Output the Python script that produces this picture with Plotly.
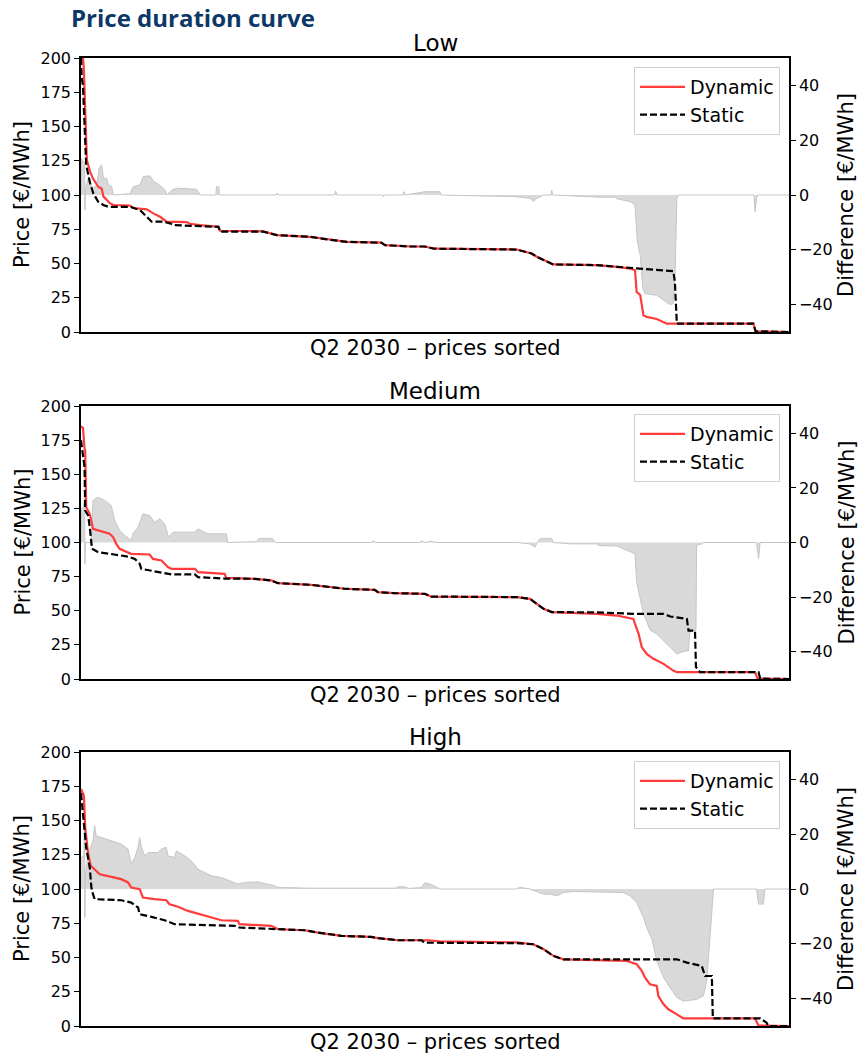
import plotly.graph_objects as go

# ---------------- data (hour rank in Q2 2030, value) ----------------
HOURS = 2184
price_ticks = [0, 25, 50, 75, 100, 125, 150, 175, 200]
diff_ticks = [-40, -20, 0, 20, 40]
scenarios = ["Low", "Medium", "High"]

low_dynamic = [(0, 200), (6, 200), (9, 191), (15, 133), (18, 125.5), (28, 117), (37, 112), (53, 106),
               (64, 104.6), (69, 99), (89, 94), (100, 92.7), (151, 92.2), (161, 90.5), (203, 89.5),
               (223, 86.6), (244, 84.1), (264, 80.5), (326, 80.2), (336, 79), (367, 78), (424, 76.8),
               (429, 73.9), (562, 73.5), (604, 70.7), (706, 69.5), (758, 67.6), (820, 65.8), (926, 65.2),
               (938, 63.4), (1018, 62.4), (1060, 62.4), (1090, 60.8), (1344, 60.2), (1390, 57.3),
               (1406, 54.9), (1457, 49.3), (1591, 48.8), (1653, 47.6), (1694, 46.3), (1709, 45.1),
               (1714, 29.3), (1725, 27), (1735, 12.2), (1745, 11), (1776, 9.5), (1807, 6.1), (2074, 6.1),
               (2081, 0.5), (2184, 0)]
low_static = [(0, 200), (2, 186), (6, 180), (13, 130), (16, 122), (28, 108.6), (38, 101.2), (53, 95.1),
              (69, 92.7), (84, 91.4), (151, 91.4), (182, 89), (203, 84.1), (218, 80.5), (254, 80.5),
              (275, 79.3), (285, 78), (346, 77.3), (424, 76.8), (429, 73.2), (562, 73.2), (604, 70.7),
              (706, 69.5), (758, 67.6), (820, 65.8), (926, 65.2), (938, 63.4), (1018, 62.4), (1060, 62.4),
              (1090, 60.8), (1344, 60.2), (1390, 57.3), (1406, 54.9), (1457, 49.3), (1591, 48.8),
              (1653, 47.6), (1694, 46.8), (1735, 46.3), (1827, 44.4), (1832, 36.6), (1838, 6.1),
              (2074, 6.1), (2081, 0.5), (2184, 0)]
low_diff = [(0, 0), (1, 13.4), (7, 12), (11, 12), (12, -5.5), (14, 2), (23, 6.7), (28, 4.3), (38, 2.5),
            (48, 3.7), (56, 9.8), (64, 11), (69, 6.1), (79, 6.1), (84, 3.7), (95, 3), (100, 0), (151, 0.5),
            (161, 3), (182, 3.7), (192, 6.7), (213, 7), (223, 5), (234, 4.3), (249, 3), (259, 1.8),
            (266, 0), (280, 1.8), (295, 2.5), (357, 2.1), (367, 0), (416, 0), (418, 3), (425, 3), (427, 0),
            (600, 0), (605, 0.7), (610, 0), (782, 0), (785, 1.5), (790, 0), (930, 0), (933, -0.6),
            (936, 0), (993, 0), (996, 1.2), (1000, 0), (1060, 1.2), (1107, 1.2), (1112, 0), (1339, -0.6),
            (1385, -1.2), (1396, -2.4), (1406, -1.2), (1427, 0), (1450, 0), (1452, 1.8), (1455, 0),
            (1601, -0.8), (1648, -0.8), (1653, -1.4), (1694, -2.4), (1709, -3.7), (1716, -17),
            (1725, -22), (1733, -34.1), (1740, -36), (1776, -36.6), (1797, -38.4), (1817, -40),
            (1827, -39.6), (1833, -28), (1838, -1.2), (1843, 0), (2076, 0), (2079, -6.1), (2084, -1.2),
            (2087, 0), (2184, 0)]

medium_dynamic = [(0, 185), (6, 184), (11, 168.6), (13, 167), (16, 125.9), (27, 121), (37, 110), (52, 108.8),
                  (88, 106.4), (99, 104), (109, 99), (119, 95.4), (145, 93), (155, 91.7), (212, 91.2),
                  (222, 88), (248, 86.8), (268, 82), (279, 80.7), (351, 80.7), (361, 78.3), (443, 77),
                  (448, 74.1), (536, 73.4), (587, 72.2), (608, 70.2), (710, 69), (762, 67.3), (813, 66.1),
                  (906, 65.3), (916, 63.6), (967, 62.9), (1060, 62.4), (1080, 60.4), (1344, 60),
                  (1385, 58.7), (1406, 55), (1427, 51.4), (1452, 49), (1591, 47.7), (1653, 46.5),
                  (1704, 44), (1709, 40.4), (1720, 33.1), (1730, 23.3), (1745, 18.4), (1766, 14.8),
                  (1797, 11.1), (1827, 6.2), (1838, 5), (2079, 5), (2087, 0.3), (2184, 0)]
medium_static = [(0, 175), (3, 170), (11, 155), (13, 123.4), (22, 119.8), (27, 111.2), (32, 99), (34, 95.4),
                 (52, 93), (104, 91.2), (145, 89.7), (166, 88), (181, 84.4), (186, 80.7), (237, 78.3),
                 (279, 76.6), (351, 76.6), (361, 74.6), (443, 73.6), (536, 73.4), (587, 72.2), (608, 70.2),
                 (710, 69), (762, 67.3), (813, 66.1), (906, 65.3), (916, 63.6), (967, 62.9), (1060, 62.4),
                 (1080, 60.4), (1344, 60), (1385, 58.7), (1406, 55), (1427, 51.4), (1452, 49), (1591, 48.8),
                 (1714, 47.7), (1797, 47.7), (1818, 45.8), (1869, 44), (1874, 35.5), (1894, 35.5),
                 (1897, 8.7), (1910, 5), (2090, 5), (2095, 0.3), (2184, 0)]
medium_diff = [(0, 0), (1, 12.3), (8, 13), (11, 17.8), (12, -7.8), (14, 0), (30, 0), (33, 3.2), (37, 15.4),
               (52, 16.6), (73, 15.4), (93, 13.6), (104, 8.1), (119, 4.4), (135, 2.6), (155, 0.7), (160, 3.2),
               (176, 5.6), (191, 10.5), (212, 9.9), (227, 7.4), (243, 8.7), (258, 6.8), (270, 2), (284, 3.8),
               (351, 3.8), (361, 5), (391, 3.2), (448, 3.2), (453, 0), (540, 0.3), (550, 1.5), (590, 1.5),
               (600, 0), (895, 0), (900, 0.6), (910, 0), (1045, 0), (1050, 0.6), (1060, 0), (1077, 0.4),
               (1098, 0), (1344, 0), (1385, -0.5), (1401, -1.7), (1406, -0.3), (1416, 1.5), (1452, 1.5),
               (1457, 0), (1509, -0.5), (1591, -0.5), (1596, -1.1), (1653, -1.3), (1694, -3.5),
               (1709, -4.1), (1714, -14.5), (1725, -21), (1735, -26), (1745, -29), (1755, -32),
               (1776, -33.5), (1797, -36), (1817, -38.4), (1838, -40.8), (1858, -39.9), (1874, -39.6),
               (1878, -32.2), (1897, -32.2), (1899, -1), (1915, -0.5), (1920, 0), (2084, 0), (2090, -6),
               (2095, 0), (2184, 0)]

high_dynamic = [(0, 173), (9, 168), (13, 145), (22, 125.5), (30, 117), (47, 113.3), (58, 110.8), (94, 108.9),
                (124, 107.2), (145, 104.8), (155, 101.1), (181, 99.9), (191, 93.8), (227, 92.6), (263, 91.8),
                (273, 88.9), (299, 87), (330, 84), (361, 82.1), (402, 79.2), (433, 77.2), (484, 76.7),
                (489, 74.3), (587, 73.1), (608, 70.6), (690, 69.9), (731, 68.2), (803, 65.8), (895, 65),
                (916, 64.1), (978, 62.6), (1070, 62.6), (1107, 61.8), (1344, 61), (1395, 59.7), (1427, 56),
                (1457, 51.2), (1488, 48.7), (1684, 47.5), (1714, 45.1), (1730, 40.2), (1740, 35.3),
                (1755, 30.5), (1776, 29.2), (1781, 21.9), (1797, 15.8), (1812, 12.2), (1838, 8.5),
                (1858, 5.6), (2079, 5.6), (2090, 0.3), (2184, 0)]
high_static = [(0, 170), (6, 154.7), (11, 142.5), (16, 130.3), (27, 115.7), (32, 101.1), (37, 96.2), (42, 92.6),
               (124, 91.8), (155, 90.1), (176, 86.5), (181, 81.6), (217, 79.7), (258, 77.2), (289, 74.3),
               (474, 73.1), (484, 71.9), (597, 70.6), (690, 69.9), (731, 68.2), (803, 65.8), (895, 65),
               (916, 64.1), (978, 62.6), (1050, 62.6), (1060, 60.8), (1344, 60.5), (1395, 59.7), (1427, 56),
               (1457, 51.2), (1488, 48.7), (1838, 48.7), (1869, 46.3), (1915, 43.8), (1925, 36.5),
               (1946, 36.5), (1949, 5.6), (2095, 5.6), (2100, 4.9), (2115, 2.4), (2120, 0), (2184, 0)]
high_diff = [(0, 11.5), (9, 12), (11, 28.6), (12, -10.4), (13, 5), (22, 12.7), (37, 17.6), (42, 23.1),
             (47, 19.4), (63, 18.8), (94, 17.6), (124, 16.4), (145, 14.6), (155, 9.1), (166, 11.5),
             (176, 15.2), (181, 18.8), (186, 15.2), (197, 12.1), (207, 13.3), (237, 13.3), (248, 14.6),
             (263, 15.2), (268, 12.1), (289, 11.5), (294, 13.9), (320, 12.1), (340, 10.3), (361, 7.2),
             (402, 4.8), (433, 4.2), (484, 1.8), (505, 2.4), (546, 2.6), (597, 1.2), (608, 0.6), (700, 0.3),
             (970, 0.3), (978, 0.8), (1000, 0.8), (1010, 0.2), (1050, 0.5), (1060, 2.2), (1077, 1.8),
             (1098, 0.6), (1108, 0), (1340, 0), (1355, 0.6), (1385, 0), (1406, -0.9), (1427, -1.9),
             (1447, -1.9), (1468, -2.5), (1488, -1.3), (1519, -0.9), (1673, -1.3), (1694, -2.5),
             (1714, -4.9), (1725, -8), (1735, -10.4), (1745, -14.1), (1761, -18.3), (1776, -26.2),
             (1797, -32.3), (1817, -36), (1838, -39.6), (1858, -40.9), (1899, -40.3), (1920, -39),
             (1930, -33.6), (1941, -16.5), (1949, -0.9), (1951, 0), (2084, 0), (2090, -5.5), (2105, -5.5),
             (2110, 0), (2184, 0)]

# ---------------- figure ----------------
W, H = 859, 1055
FONT = "DejaVu Sans"
RED = "#ff3b3b"


def fx(p):
    return p / W


def fy(p):
    return 1 - p / H


panels = [
    dict(title=scenarios[0], dyn=low_dynamic, sta=low_static, diff=low_diff, top=58, bottom=332, leg_top=67),
    dict(title=scenarios[1], dyn=medium_dynamic, sta=medium_static, diff=medium_diff, top=406, bottom=679, leg_top=414),
    dict(title=scenarios[2], dyn=high_dynamic, sta=high_static, diff=high_diff, top=752, bottom=1026, leg_top=761),
]

plot_left, plot_right = 81, 789
fig = go.Figure()
layout = dict(
    width=W, height=H, autosize=False,
    margin=dict(l=0, r=0, t=0, b=0, autoexpand=False),
    paper_bgcolor="white", plot_bgcolor="white",
    font=dict(family=FONT, color="black", size=16),
    annotations=[],
)

axis_common = dict(showgrid=False, zeroline=False, showline=True, linecolor="black", linewidth=1.5,
                   ticks="outside", ticklen=5, tickwidth=1.3, tickcolor="black", automargin=False,
                   tickfont=dict(family=FONT, size=16, color="black"))

for i, p in enumerate(panels):
    n = i + 1
    xname = "x" if n == 1 else f"x{n}"
    ydiff = "y" if i == 0 else f"y{2 * i + 1}"
    yprice = f"y{2 * i + 2}"
    leg = "legend" if i == 0 else f"legend{n}"

    fig.add_trace(go.Scatter(
        x=[h for h, _ in p["diff"]], y=[v for _, v in p["diff"]],
        xaxis=xname, yaxis=ydiff, mode="lines", fill="tozeroy",
        line=dict(color="#c6c6c6", width=1), fillcolor="#d9d9d9",
        showlegend=False, hoverinfo="skip"))
    fig.add_trace(go.Scatter(
        x=[h for h, _ in p["dyn"]], y=[v for _, v in p["dyn"]],
        xaxis=xname, yaxis=yprice, mode="lines", name="Dynamic",
        line=dict(color=RED, width=2.2), legend=leg))
    fig.add_trace(go.Scatter(
        x=[h for h, _ in p["sta"]], y=[v for _, v in p["sta"]],
        xaxis=xname, yaxis=yprice, mode="lines", name="Static",
        line=dict(color="black", width=2.2, dash="7px,3px"), legend=leg))

    dom_y = [fy(p["bottom"]), fy(p["top"])]
    xkey = "xaxis" if n == 1 else f"xaxis{n}"
    layout[xkey] = dict(domain=[fx(plot_left), fx(plot_right)], anchor=ydiff, range=[0, HOURS],
                        showgrid=False, zeroline=False, showline=True, mirror=True, automargin=False,
                        linecolor="black", linewidth=1.5, ticks="", showticklabels=False)
    dkey = "yaxis" if i == 0 else f"yaxis{2 * i + 1}"
    layout[dkey] = dict(axis_common, domain=dom_y, anchor=xname, side="right",
                        range=[-50, 50], tickvals=diff_ticks)
    layout[f"yaxis{2 * i + 2}"] = dict(axis_common, domain=dom_y, anchor=xname, side="left",
                                       overlaying=ydiff, range=[0, 200], tickvals=price_ticks)
    layout[leg] = dict(x=fx(780), xanchor="right", y=fy(p["leg_top"]), yanchor="top",
                       bgcolor="rgba(255,255,255,0.85)", bordercolor="#d0d0d0", borderwidth=1,
                       font=dict(family=FONT, size=19, color="black"), itemwidth=45,
                       tracegroupgap=0)

    mid = (p["top"] + p["bottom"]) / 2
    layout["annotations"] += [
        dict(text=p["title"], x=fx((plot_left + plot_right) / 2), y=fy(p["top"] - 15),
             xref="paper", yref="paper", xanchor="center", yanchor="middle", showarrow=False,
             font=dict(family=FONT, size=23, color="black")),
        dict(text="Q2 2030 – prices sorted", x=fx((plot_left + plot_right) / 2), y=fy(p["bottom"] + 16),
             xref="paper", yref="paper", xanchor="center", yanchor="middle", showarrow=False,
             font=dict(family=FONT, size=21, color="black")),
        dict(text="Price [€/MWh]", x=fx(22), y=fy(mid), xref="paper", yref="paper",
             xanchor="center", yanchor="middle", textangle=-90, showarrow=False,
             font=dict(family=FONT, size=21, color="black")),
        dict(text="Difference [€/MWh]", x=fx(846), y=fy(mid), xref="paper", yref="paper",
             xanchor="center", yanchor="middle", textangle=-90, showarrow=False,
             font=dict(family=FONT, size=21, color="black")),
    ]

layout["annotations"].append(
    dict(text="<b>Price duration curve</b>", x=fx(69), y=fy(18), xref="paper", yref="paper",
         xanchor="left", yanchor="middle", showarrow=False,
         font=dict(family="Open Sans", size=24, color="#0c3867")))

fig.update_layout(**layout)
fig.write_html("out.html")
